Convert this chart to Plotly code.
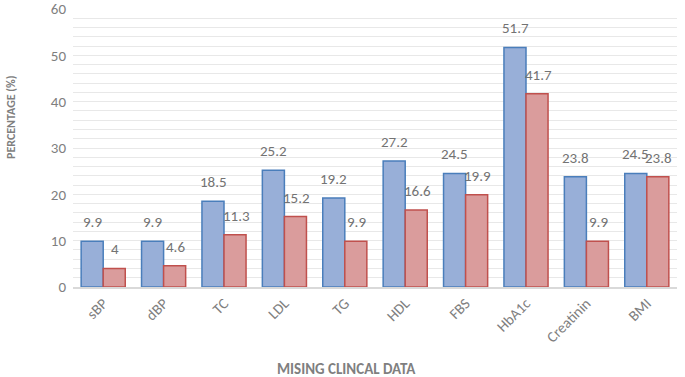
import plotly.graph_objects as go

categories = ["sBP", "dBP", "TC", "LDL", "TG", "HDL", "FBS", "HbA1c", "Creatinin", "BMI"]
series_a = [9.9, 9.9, 18.5, 25.2, 19.2, 27.2, 24.5, 51.7, 23.8, 24.5]
series_b = [4, 4.6, 11.3, 15.2, 9.9, 16.6, 19.9, 41.7, 9.9, 23.8]
y_ticks = [0, 10, 20, 30, 40, 50, 60]

FONT = "Calibri, Carlito, Lato, sans-serif"
GRAY = "#7f7f7f"
LABEL = "#737373"

W, H = 685, 377
ML, MR, MT, MB = 73, 8, 9, 90
PW = W - ML - MR
PH = H - MT - MB

fig = go.Figure()
fig.add_trace(go.Bar(
    x=categories, y=series_a,
    marker=dict(color="#98afd8", line=dict(color="#4a7ebb", width=1.5)),
))
fig.add_trace(go.Bar(
    x=categories, y=series_b,
    marker=dict(color="#da9c9c", line=dict(color="#c0504d", width=1.5)),
))

# value labels above bars
for cat, va, vb in zip(categories, series_a, series_b):
    for v, dx in ((va, -11), (vb, 12)):
        fig.add_annotation(
            x=cat, y=v, xref="x", yref="y", text=f"{v:g}", showarrow=False,
            xanchor="center", yanchor="bottom", xshift=dx, yshift=8,
            font=dict(size=15, color=LABEL, family=FONT),
        )

# axis titles
fig.add_annotation(
    x=(346 - ML) / PW, y=(H - 369 - MB) / PH, xref="paper", yref="paper",
    text="<b>MISING CLINCAL DATA</b>", showarrow=False,
    xanchor="center", yanchor="middle",
    font=dict(size=15, color=GRAY, family=FONT),
)
fig.add_annotation(
    x=(11 - ML) / PW, y=(H - 117 - MB) / PH, xref="paper", yref="paper",
    text="<b>PERCENTAGE (%)</b>", showarrow=False, textangle=-90,
    xanchor="center", yanchor="middle",
    font=dict(size=12, color=GRAY, family=FONT),
)

fig.update_layout(
    width=W, height=H,
    margin=dict(l=ML, r=MR, t=MT, b=MB),
    paper_bgcolor="white", plot_bgcolor="white",
    barmode="group", bargap=0.27, bargroupgap=0,
    showlegend=False,
    font=dict(family=FONT, color=GRAY),
)
fig.update_xaxes(
    automargin=False,
    tickangle=-45, tickfont=dict(size=15, color=GRAY, family=FONT),
    showline=True, linecolor="#d9d9d9", linewidth=1.5,
    ticks="",
)
fig.update_yaxes(
    automargin=False,
    range=[0, 60], tickvals=y_ticks, ticktext=[str(t) for t in y_ticks],
    tickfont=dict(size=15, color=GRAY, family=FONT),
    ticklabeloverflow="allow",
    showgrid=True, gridcolor="#e8e8e8", gridwidth=1,
    minor=dict(dtick=2, showgrid=True, gridcolor="#e8e8e8", gridwidth=1),
    zeroline=False, ticks="", ticklabelstandoff=6,
)

fig.write_html(
    "out.html",
    config={"displayModeBar": False},
    post_script="document.body.style.margin='0';document.body.style.overflow='hidden';",
)
